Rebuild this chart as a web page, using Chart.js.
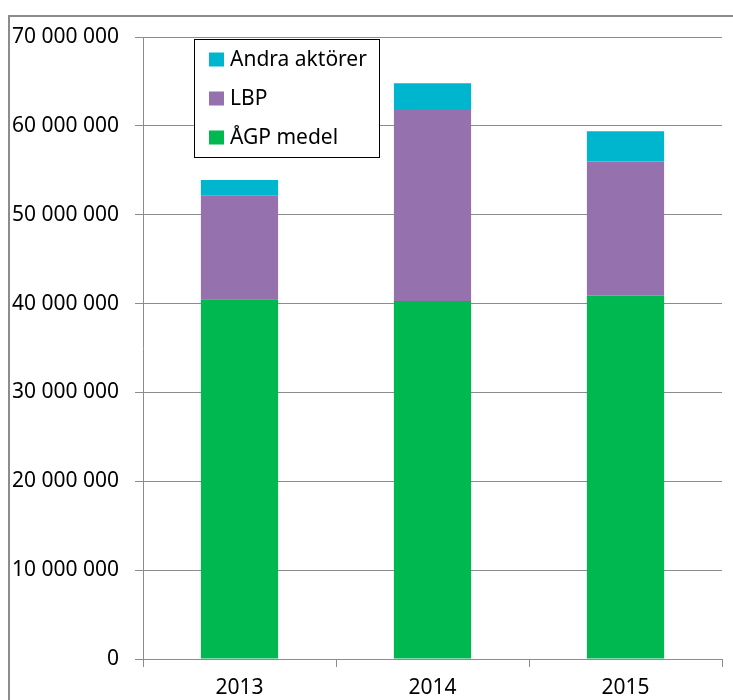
<!DOCTYPE html>
<html>
<head>
<meta charset="utf-8">
<style>
html,body{margin:0;padding:0;background:#fff;overflow:hidden;}
#wrap{position:relative;width:733px;height:700px;}
</style>
<script src="https://cdn.jsdelivr.net/npm/chart.js@4"></script>
</head>
<body>
<div id="wrap"><canvas id="c" width="733" height="700"></canvas></div>
<script>
const categories = ['2013', '2014', '2015'];
const agpMedel = [40500000, 40300000, 40900000];
const lbp = [11700000, 21600000, 15100000];
const andraAktorer = [1700000, 2900000, 3400000];
const yTicks = [0, 10000000, 20000000, 30000000, 40000000, 50000000, 60000000, 70000000];

const FONT = 'Noto Sans';
const fmt = v => String(v).replace(/\B(?=(\d{3})+(?!\d))/g, ' ');

const framePlugin = {
  id: 'frame',
  beforeDraw(chart) {
    const ctx = chart.ctx;
    ctx.save();
    ctx.fillStyle = '#fff';
    ctx.fillRect(0, 0, chart.width, chart.height);
    ctx.strokeStyle = '#8c8c8c';
    ctx.lineWidth = 2;
    ctx.strokeRect(9, 16, 800, 800);
    ctx.restore();
  }
};

const legendPlugin = {
  id: 'boxLegend',
  afterDraw(chart) {
    const ctx = chart.ctx;
    const x = 194, y = 39, w = 185, h = 118;
    ctx.save();
    ctx.fillStyle = '#fff';
    ctx.fillRect(x, y, w, h);
    ctx.strokeStyle = '#000';
    ctx.lineWidth = 1;
    ctx.strokeRect(x + 0.5, y + 0.5, w, h);
    const ds = chart.data.datasets.slice().reverse();
    ctx.font = '21px "' + FONT + '"';
    ctx.textBaseline = 'middle';
    ds.forEach((d, i) => {
      const cy = 59.5 + i * 39;
      ctx.fillStyle = d.backgroundColor;
      ctx.fillRect(209, cy - 7, 15, 14);
      ctx.fillStyle = '#000';
      ctx.fillText(d.label, 230, cy + 1);
    });
    ctx.restore();
  }
};

new Chart(document.getElementById('c'), {
  type: 'bar',
  data: {
    labels: categories,
    datasets: [
      { label: 'ÅGP medel', data: agpMedel, backgroundColor: '#00b850' },
      { label: 'LBP', data: lbp, backgroundColor: '#9571ad' },
      { label: 'Andra aktörer', data: andraAktorer, backgroundColor: '#00b6ce' }
    ]
  },
  options: {
    responsive: false,
    animation: false,
    devicePixelRatio: 1,
    layout: { padding: { left: 0, right: 11, top: 37, bottom: 0 } },
    plugins: { legend: { display: false }, tooltip: { enabled: false } },
    datasets: { bar: { barPercentage: 0.4, categoryPercentage: 1.0 } },
    scales: {
      x: {
        stacked: true,
        afterFit: s => { s.height = 41; },
        grid: { display: true, drawOnChartArea: false, offset: true, tickLength: 8, color: '#8c8c8c' },
        border: { display: true, color: '#8c8c8c' },
        ticks: { color: '#000', font: { family: FONT, size: 21 }, padding: 8 }
      },
      y: {
        stacked: true,
        min: 0,
        max: 70000000,
        afterBuildTicks: s => { s.ticks = yTicks.map(v => ({ value: v })); },
        afterFit: s => { s.width = 143; },
        grid: { color: '#8c8c8c', tickLength: 8 },
        border: { display: true, color: '#8c8c8c' },
        ticks: { color: '#000', font: { family: FONT, size: 21 }, padding: 16, callback: v => fmt(v) }
      }
    }
  },
  plugins: [framePlugin, legendPlugin]
});
</script>
</body>
</html>
